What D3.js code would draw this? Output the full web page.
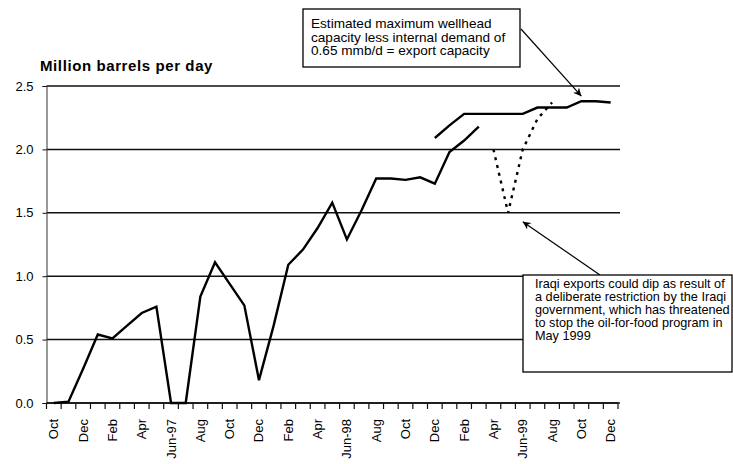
<!DOCTYPE html>
<html><head><meta charset="utf-8">
<script src="https://cdn.jsdelivr.net/npm/d3@7"></script>
<style>
body{margin:0;background:#fff}
svg{display:block;font-family:"Liberation Sans",Arial,Helvetica,sans-serif}
</style>
</head><body>
<svg id="chart" width="733" height="464"></svg>
<script>
// ---------- data ----------
const months = ["Oct-96","Nov-96","Dec-96","Jan-97","Feb-97","Mar-97","Apr-97","May-97","Jun-97","Jul-97","Aug-97","Sep-97",
  "Oct-97","Nov-97","Dec-97","Jan-98","Feb-98","Mar-98","Apr-98","May-98","Jun-98","Jul-98","Aug-98","Sep-98",
  "Oct-98","Nov-98","Dec-98","Jan-99","Feb-99","Mar-99","Apr-99","May-99","Jun-99","Jul-99","Aug-99","Sep-99",
  "Oct-99","Nov-99","Dec-99"];
const tickMonths = ["Oct-96","Dec-96","Feb-97","Apr-97","Jun-97","Aug-97","Oct-97","Dec-97","Feb-98","Apr-98",
  "Jun-98","Aug-98","Oct-98","Dec-98","Feb-99","Apr-99","Jun-99","Aug-99","Oct-99","Dec-99"];
const tickLabels = ["Oct","Dec","Feb","Apr","Jun-97","Aug","Oct","Dec","Feb","Apr",
  "Jun-98","Aug","Oct","Dec","Feb","Apr","Jun-99","Aug","Oct","Dec"];

const exportMonths = ["Oct-96","Nov-96","Dec-96","Jan-97","Feb-97","Mar-97","Apr-97","May-97","Jun-97","Jul-97","Aug-97","Sep-97",
  "Oct-97","Nov-97","Dec-97","Jan-98","Feb-98","Mar-98","Apr-98","May-98","Jun-98","Jul-98","Aug-98","Sep-98",
  "Oct-98","Nov-98","Dec-98","Jan-99","Feb-99","Mar-99"];
const exportValues = [0.00,0.01,0.27,0.54,0.51,0.61,0.71,0.76,0.00,0.00,0.84,1.11,
  0.94,0.77,0.18,0.61,1.09,1.21,1.38,1.58,1.29,1.52,1.77,1.77,
  1.76,1.78,1.73,1.98,2.07,2.18];

const capacityMonths = ["Dec-98","Jan-99","Feb-99","Mar-99","Apr-99","May-99","Jun-99","Jul-99","Aug-99","Sep-99","Oct-99","Nov-99","Dec-99"];
const capacityValues = [2.09,2.19,2.28,2.28,2.28,2.28,2.28,2.33,2.33,2.33,2.38,2.38,2.37];

const dipMonths = ["Apr-99","May-99","Jun-99","Jul-99","Aug-99"];
const dipValues = [2.00,1.50,2.00,2.24,2.37];

const yTicks = [0,0.5,1.0,1.5,2.0,2.5];

const titleText = "Million barrels per day";
const note1Lines = ["Estimated maximum wellhead","capacity less internal demand of","0.65 mmb/d = export capacity"];
const note2Lines = ["Iraqi exports could dip as result of","a deliberate restriction by the Iraqi","government, which has threatened","to stop the oil-for-food program in","May 1999"];
const note1Target = {month:"Oct-99", value:2.42};
const note2Target = {month:"Jun-99", value:1.43};

// ---------- layout ----------
const svg = d3.select("#chart");
const left = 46.5, right = 618, gridRight = 620;
const x = d3.scaleBand().domain(months).range([left, right]).padding(0);
const cx = m => x(m) + x.bandwidth()/2;
const y = d3.scaleLinear().domain([0,2.5]).range([403,86]);
const ink = "#111";

// gridlines
svg.append("g").selectAll("line").data(yTicks).join("line")
  .attr("x1", left).attr("x2", gridRight)
  .attr("y1", d=>y(d)).attr("y2", d=>y(d))
  .attr("stroke", ink).attr("stroke-width", 1.5);

// y axis
const yAxis = svg.append("g").attr("transform",`translate(${left},0)`)
  .call(d3.axisLeft(y).tickValues(yTicks).tickFormat(d3.format(".1f")).tickSize(4).tickPadding(9));
yAxis.select(".domain").attr("stroke", "#333").attr("stroke-width",1);
yAxis.selectAll(".tick line").attr("stroke", ink);
yAxis.selectAll("text").attr("font-size", 13).attr("fill","#000")
  .attr("font-family",'"Liberation Sans",Arial,sans-serif');

// x axis ticks at band edges
const edges = months.map(m=>x(m)).concat([right]);
svg.append("g").selectAll("line").data(edges).join("line")
  .attr("x1", d=>d).attr("x2", d=>d).attr("y1", 403).attr("y2", 409)
  .attr("stroke", ink).attr("stroke-width", 1.2);
svg.append("line").attr("x1", left).attr("x2", right).attr("y1", y(0)).attr("y2", y(0))
  .attr("stroke", ink).attr("stroke-width", 1.5);

// x labels
svg.append("g").selectAll("text").data(tickMonths).join("text")
  .attr("transform", d=>`translate(${cx(d)+4.5},419) rotate(-90)`)
  .attr("text-anchor","end")
  .attr("font-size", 13)
  .attr("fill","#000")
  .text((d,i)=>tickLabels[i]);

// title
svg.append("text").attr("x", 40).attr("y", 71)
  .attr("font-size", 15).attr("font-weight","bold").attr("fill","#000")
  .attr("letter-spacing", 0.6)
  .text(titleText);

// lines
const line = d3.line().x(d=>cx(d[0])).y(d=>y(d[1]));
svg.append("path").datum(exportMonths.map((m,i)=>[m,exportValues[i]]))
  .attr("d", line).attr("fill","none").attr("stroke","#000").attr("stroke-width",2.4)
  .attr("stroke-linejoin","miter");
svg.append("path").datum(capacityMonths.map((m,i)=>[m,capacityValues[i]]))
  .attr("d", line).attr("fill","none").attr("stroke","#000").attr("stroke-width",2.4);
svg.append("path").datum(dipMonths.map((m,i)=>[m,dipValues[i]]))
  .attr("d", line).attr("fill","none").attr("stroke","#000").attr("stroke-width",2.4)
  .attr("stroke-dasharray","3,5");

// arrow marker
const defs = svg.append("defs");
defs.append("marker").attr("id","arr").attr("viewBox","0 0 10 10")
  .attr("refX",10).attr("refY",5).attr("markerWidth",11).attr("markerHeight",8)
  .attr("markerUnits","userSpaceOnUse").attr("orient","auto")
  .append("path").attr("d","M0,0 L10,5 L0,10 L3,5 Z").attr("fill","#000");

// annotation 1
svg.append("line").attr("x1",521).attr("y1",29)
  .attr("x2", cx(note1Target.month)).attr("y2", y(note1Target.value))
  .attr("stroke","#000").attr("stroke-width",1.2).attr("marker-end","url(#arr)");
svg.append("rect").attr("x",303).attr("y",9).attr("width",217).attr("height",58)
  .attr("fill","#fff").attr("stroke","#000").attr("stroke-width",1.3);
svg.append("g").selectAll("text").data(note1Lines).join("text")
  .attr("x",311).attr("y",(d,i)=>28+i*13.7)
  .attr("font-size",13.6).attr("fill","#000").text(d=>d);

// annotation 2
svg.append("line").attr("x1",600).attr("y1",275)
  .attr("x2", cx(note2Target.month)).attr("y2", y(note2Target.value))
  .attr("stroke","#000").attr("stroke-width",1.2).attr("marker-end","url(#arr)");
svg.append("rect").attr("x",523).attr("y",275).attr("width",209).attr("height",97)
  .attr("fill","#fff").attr("stroke","#000").attr("stroke-width",1.3);
svg.append("g").selectAll("text").data(note2Lines).join("text")
  .attr("x",535).attr("y",(d,i)=>288+i*13.1)
  .attr("font-size",12.7).attr("fill","#000").text(d=>d);
</script>
</body></html>
